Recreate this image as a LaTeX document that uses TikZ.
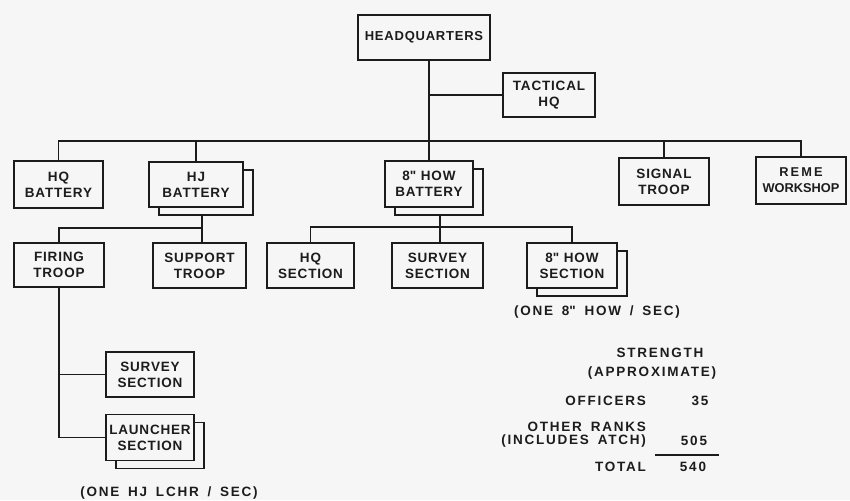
\documentclass[tikz,border=0pt]{standalone}
\usepackage{fontspec}
\setmainfont{Liberation Sans}
\newfontfamily\boxfont[LetterSpace=6]{Liberation Sans}
\newfontfamily\notefont[LetterSpace=13,WordSpace=1.6]{Liberation Sans}
\usetikzlibrary{shadows}
\definecolor{bg}{HTML}{F6F6F6}
\definecolor{ink}{HTML}{1C1C1C}
\begin{document}
\begin{tikzpicture}[x=1pt,y=-1pt,
  unit/.style={draw=ink, line width=1.7pt, fill=bg, align=center, inner sep=0pt,
    font=\boxfont\fontsize{13.5}{16}\selectfont\bfseries, text=ink},
  stack/.style={unit, copy shadow={shadow xshift=10pt, shadow yshift=-8pt, draw=ink, fill=bg, line width=1.7pt}},
  link/.style={draw=ink, line width=1.7pt},
  lbl/.style={font=\notefont\fontsize{13.5}{16}\selectfont\bfseries, text=ink, inner sep=0pt, align=center}]
\fill[bg] (0,0) rectangle (850,500);
\useasboundingbox (0,0) rectangle (850,500);

% top
\node[unit, minimum width=132pt, minimum height=45pt, font=\boxfont\fontsize{13}{16}\selectfont\bfseries] (HQ) at (424,37.5) {HEADQUARTERS};
\node[unit, minimum width=92pt, minimum height=44pt] (TAC) at (549,95) {TACTICAL\\HQ};
\coordinate (bus) at (429,141);

% row 1
\node[unit, minimum width=89pt, minimum height=47pt] (HQB) at (58.5,184.5) {HQ\\BATTERY};
\node[stack, minimum width=94pt, minimum height=45pt] (HJB) at (196,184.5) {HJ\\BATTERY};
\node[stack, minimum width=88pt, minimum height=46pt] (HOWB) at (429,184) {8\textquotedbl\ HOW\\BATTERY};
\node[unit, minimum width=90pt, minimum height=47pt] (SIG) at (664,181.5) {SIGNAL\\TROOP};
\node[unit, minimum width=90pt, minimum height=47pt, font=\fontsize{12.8}{16}\selectfont\bfseries] (REME) at (801,180.5) {R\,E\,M\,E\\WORKSHOP};

% row 2
\node[unit, minimum width=90pt, minimum height=44pt] (FT) at (59,265) {FIRING\\TROOP};
\node[unit, minimum width=93pt, minimum height=45pt] (ST) at (199.5,265.5) {SUPPORT\\TROOP};
\node[unit, minimum width=87pt, minimum height=45pt] (HQS) at (310.5,265.5) {HQ\\SECTION};
\node[unit, minimum width=91pt, minimum height=45pt] (SVS) at (437.5,265.5) {SURVEY\\SECTION};
\node[stack, minimum width=90pt, minimum height=45pt] (HOWS) at (572,265.5) {8\textquotedbl\ HOW\\SECTION};
\node[lbl] (HOWNOTE) at (597,312) {(ONE 8\textquotedbl\ HOW / SEC)};

% row 3
\node[unit, minimum width=88pt, minimum height=45pt] (SVS2) at (150,374.5) {SURVEY\\SECTION};
\node[stack, minimum width=88pt, minimum height=46pt] (LS) at (150,437.5) {LAUNCHER\\SECTION};
\node[lbl] (LSNOTE) at (169,493) {(ONE HJ LCHR / SEC)};

% connectors
\draw[link] (HQ.south -| bus) -- (bus);
\draw[link] (TAC.west) -- (TAC.west -| bus);
\draw[link] (HQB.north) -- (HQB.north |- bus) -- (REME.north |- bus) -- (REME.north);
\draw[link] (HJB.north) -- (HJB.north |- bus);
\draw[link] (HOWB.north) -- (HOWB.north |- bus);
\draw[link] (SIG.north) -- (SIG.north |- bus);

\coordinate (hjdrop) at (202,215);
\coordinate (hjbus) at (202,228);
\draw[link] (hjdrop) -- (ST.north -| hjdrop);
\draw[link] (FT.north) -- (FT.north |- hjbus) -- (hjbus);

\coordinate (howdrop) at (440,215);
\coordinate (howbus) at (440,227);
\draw[link] (howdrop) -- (SVS.north -| howdrop);
\draw[link] (HQS.north) -- (HQS.north |- howbus) -- (HOWS.north |- howbus) -- (HOWS.north);

\draw[link] (FT.south) -- (FT.south |- LS.west) -- (LS.west);
\draw[link] (SVS2.west) -- (SVS2.west -| FT.south);

% strength table
\node[lbl] (STR) at (660,353) {STRENGTH};
\node[lbl] (APX) at (652,373) {(APPROXIMATE)};
\node[lbl, anchor=east] (OFF) at (646,401) {OFFICERS};
\node[lbl] (N35) at (700,401) {35};
\node[lbl, anchor=east] (OR) at (646,427) {OTHER RANKS};
\node[lbl, anchor=east] (INC) at (646,441) {(INCLUDES ATCH)};
\node[lbl] (N505) at (694,441) {505};
\coordinate (rulea) at (655,455);
\coordinate (ruleb) at (719,455);
\draw[link] (rulea) -- (ruleb);
\node[lbl, anchor=east] (TOT) at (646,467) {TOTAL};
\node[lbl] (N540) at (693,467) {540};
\end{tikzpicture}
\end{document}
